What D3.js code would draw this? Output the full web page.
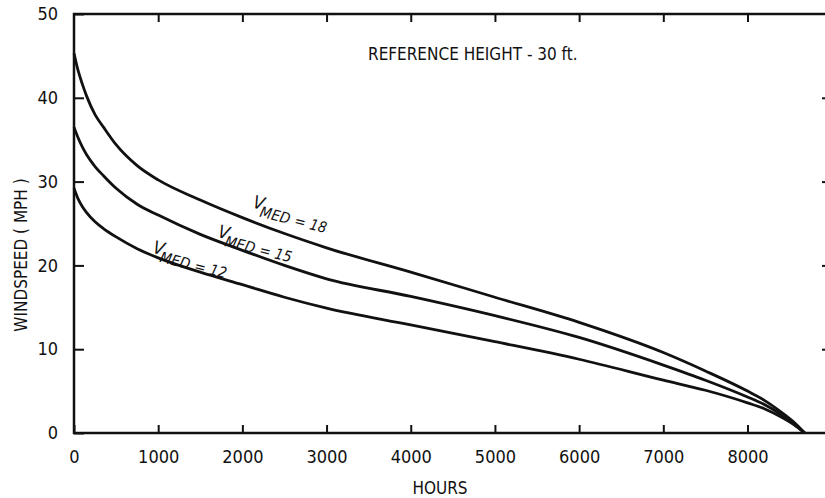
<!DOCTYPE html>
<html>

<head>
  <meta charset="UTF-8">
  <title>Windspeed duration</title>
  <script src="https://d3js.org/d3.v7.min.js"></script>
  <style>
    body {
      margin: 0;
      background: #fff;
    }

    svg text {
      font-family: "Liberation Sans Narrow", "DejaVu Sans Condensed", sans-serif;
      fill: #111;
    }
  </style>
</head>

<body>
  <svg></svg>

  <script>
    // hours per year that windspeed is exceeded
    let hours = [0, 50, 100, 150, 250, 350, 500, 750, 1000, 1500, 2000, 2500, 3000, 4000, 5000, 6000, 7000, 7500, 8000, 8200, 8400, 8550, 8680];

    let vmed18 = [45.3, 43.2, 41.6, 40.2, 38, 36.5, 34.4, 31.9, 30.2, 27.8, 25.7, 23.8, 22.1, 19.2, 16.2, 13.2, 9.6, 7.4, 5.0, 3.9, 2.5, 1.3, 0];
    let vmed15 = [36.5, 35.2, 34.1, 33.2, 31.8, 30.7, 29.2, 27.3, 26, 23.7, 21.8, 20.0, 18.4, 16.3, 14, 11.4, 8.1, 6.3, 4.3, 3.4, 2.2, 1.1, 0];
    let vmed12 = [29.2, 27.9, 27, 26.3, 25.2, 24.4, 23.4, 22, 20.9, 19.2, 17.7, 16.2, 14.9, 12.9, 10.9, 8.8, 6.3, 5.1, 3.6, 2.9, 1.9, 1.0, 0];

    let seriesNames = ["18", "15", "12"];
    let xTicks = [0, 1000, 2000, 3000, 4000, 5000, 6000, 7000, 8000];
    let yTicks = [0, 10, 20, 30, 40, 50];

    // where each V_MED label sits (hours, mph)
    let labelAnchors = [[2114, 26.9], [1698, 23.4], [926, 21.5]];

    let width = 825,
      height = 498;

    let svg = d3.select("svg")
      .attr("width", width)
      .attr("height", height);

    let x = d3.scaleLinear().domain([0, 8980]).range([74, 830]);
    let y = d3.scaleLinear().domain([0, 50]).range([433, 14]);

    let allSeries = [vmed18, vmed15, vmed12];

    // frame
    svg.append("rect")
      .attr("x", x(0))
      .attr("y", y(50))
      .attr("width", x(8980) - x(0))
      .attr("height", y(0) - y(50))
      .attr("fill", "none")
      .attr("stroke", "#111")
      .attr("stroke-width", 2.5);

    // inward ticks on all four sides
    let axisB = svg.append("g")
      .attr("transform", "translate(0," + y(0) + ")")
      .call(d3.axisBottom(x).tickValues(xTicks).tickFormat(d3.format("d"))
        .tickSizeInner(-8).tickSizeOuter(0).tickPadding(17));
    axisB.selectAll("text").style("font-size", "18px");

    svg.append("g")
      .attr("transform", "translate(0," + y(50) + ")")
      .call(d3.axisTop(x).tickValues(xTicks.slice(1)).tickSizeInner(-8).tickSizeOuter(0).tickFormat(""));

    let axisL = svg.append("g")
      .attr("transform", "translate(" + x(0) + ",0)")
      .call(d3.axisLeft(y).tickValues(yTicks).tickSizeInner(-10).tickSizeOuter(0).tickPadding(16));
    axisL.selectAll("text").style("font-size", "18px");

    svg.append("g")
      .attr("transform", "translate(" + x(8980) + ",0)")
      .call(d3.axisRight(y).tickValues(yTicks.slice(1, 5)).tickSizeInner(-8).tickSizeOuter(0).tickFormat(""));

    svg.selectAll(".domain").remove();
    svg.selectAll(".tick line").attr("stroke", "#111").attr("stroke-width", 2);
    svg.selectAll(".tick text").attr("fill", "#111");

    // curves
    let line = d3.line()
      .x((d, i) => x(hours[i]))
      .y(d => y(d))
      .curve(d3.curveMonotoneX);

    svg.append("g")
      .selectAll("path")
      .data(allSeries)
      .enter()
      .append("path")
      .attr("d", line)
      .attr("fill", "none")
      .attr("stroke", "#111")
      .attr("stroke-width", 2.8);

    // V_MED labels
    labelAnchors.forEach((a, i) => {
      let px = x(a[0]),
        py = y(a[1]);
      let t = svg.append("text")
        .attr("transform", "translate(" + px + "," + py + ") rotate(14)")
        .style("font-style", "italic");
      t.append("tspan").text("V").style("font-size", "18px");
      t.append("tspan").attr("dy", 7).attr("dx", -2).text("MED").style("font-size", "15px");
      t.append("tspan").attr("dx", 5).text("= " + seriesNames[i]).style("font-size", "15px");
    });

    svg.append("text")
      .attr("x", 368)
      .attr("y", 60)
      .style("font-size", "17px")
      .text("REFERENCE HEIGHT - 30 ft.");

    svg.append("text")
      .attr("x", 440)
      .attr("y", 494)
      .attr("text-anchor", "middle")
      .style("font-size", "17px")
      .text("HOURS");

    svg.append("text")
      .attr("transform", "translate(27,255) rotate(-90)")
      .attr("text-anchor", "middle")
      .style("font-size", "17px")
      .text("WINDSPEED ( MPH )");
  </script>

</body>

</html>
